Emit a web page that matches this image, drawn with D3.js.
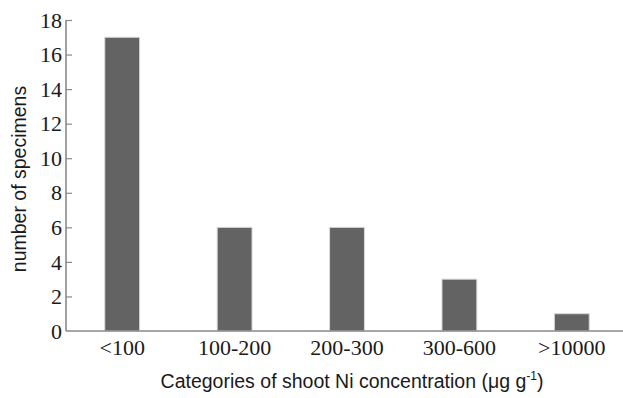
<!DOCTYPE html>
<html>
<head>
<meta charset="utf-8">
<script src="https://cdn.jsdelivr.net/npm/d3@7"></script>
<style>
  body { margin: 0; background: #fff; }
  svg { display: block; }
</style>
</head>
<body>
<svg id="chart" width="623" height="398"></svg>
<script>
// data
const categories = ["<100", "100-200", "200-300", "300-600", ">10000"];
const specimens = [17, 6, 6, 3, 1];
const yTicks = [0, 2, 4, 6, 8, 10, 12, 14, 16, 18];

const width = 623, height = 398;
const plotLeft = 66, plotTop = 20, plotBottom = 331, plotRight = 628;

const svg = d3.select("#chart");

const x = d3.scaleBand()
  .domain(categories)
  .range([plotLeft, plotRight])
  .paddingInner(0.69)
  .paddingOuter(0.345);

const y = d3.scaleLinear().domain([0, 18]).range([plotBottom, plotTop]);

// bars
svg.append("g")
  .selectAll("rect")
  .data(categories)
  .enter()
  .append("rect")
  .attr("x", d => x(d))
  .attr("y", (d, i) => y(specimens[i]))
  .attr("width", x.bandwidth())
  .attr("height", (d, i) => plotBottom - y(specimens[i]))
  .attr("fill", "#636363")
  .attr("stroke", "#d8d8d8")
  .attr("stroke-width", 1);

// y axis, ticks point inward
const yAxis = svg.append("g")
  .attr("transform", "translate(" + plotLeft + ",0)")
  .call(d3.axisRight(y).tickValues(yTicks).tickSize(6).tickFormat(""));
yAxis.select(".domain").attr("stroke", "#8a8a8a").attr("stroke-width", 1.6)
  .attr("d", "M0," + plotTop + "V" + plotBottom);
yAxis.selectAll(".tick line").attr("stroke", "#8a8a8a").attr("stroke-width", 1.2);
yAxis.selectAll(".tick").filter(d => d === 0).select("line").remove();

svg.append("g")
  .selectAll("text")
  .data(yTicks)
  .enter()
  .append("text")
  .attr("x", 62)
  .attr("y", d => y(d))
  .attr("dy", "0.35em")
  .attr("text-anchor", "end")
  .attr("font-family", "Liberation Serif, Times New Roman, serif")
  .attr("font-size", 22)
  .attr("fill", "#1a1a1a")
  .text(d => d);

// x axis
svg.append("line")
  .attr("x1", plotLeft).attr("x2", width)
  .attr("y1", plotBottom).attr("y2", plotBottom)
  .attr("stroke", "#8a8a8a")
  .attr("stroke-width", 1.6);

svg.append("g")
  .selectAll("text")
  .data(categories)
  .enter()
  .append("text")
  .attr("x", d => x(d) + x.bandwidth() / 2)
  .attr("y", 355)
  .attr("text-anchor", "middle")
  .attr("font-family", "Liberation Serif, Times New Roman, serif")
  .attr("font-size", 22)
  .attr("fill", "#1a1a1a")
  .text(d => d);

// axis titles
const xTitle = svg.append("text")
  .attr("x", 352)
  .attr("y", 388)
  .attr("text-anchor", "middle")
  .attr("font-family", "Liberation Sans, Arial, sans-serif")
  .attr("font-size", 19.5)
  .attr("fill", "#1a1a1a");
xTitle.append("tspan").text("Categories of shoot Ni concentration (μg g");
xTitle.append("tspan").attr("font-size", 12).attr("dy", -8).text("-1");
xTitle.append("tspan").attr("dy", 8).text(")");

svg.append("text")
  .attr("transform", "translate(26,179) rotate(-90)")
  .attr("text-anchor", "middle")
  .attr("font-family", "Liberation Sans, Arial, sans-serif")
  .attr("font-size", 19.5)
  .attr("fill", "#1a1a1a")
  .text("number of specimens");
</script>
</body>
</html>
